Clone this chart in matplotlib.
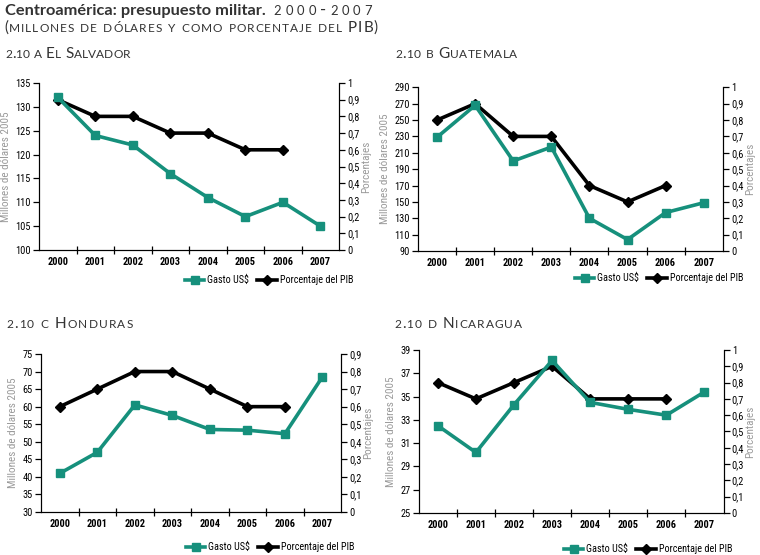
import matplotlib
matplotlib.use("Agg")
import matplotlib.pyplot as plt
from matplotlib.transforms import IdentityTransform
from matplotlib.lines import Line2D

years = ['2000', '2001', '2002', '2003', '2004', '2005', '2006', '2007']

# gasto militar (millones de dolares 2005) y porcentaje del PIB
sv_gasto = [132, 124, 122, 116, 111, 107, 110, 105]
sv_pib = [0.9, 0.8, 0.8, 0.7, 0.7, 0.6, 0.6]
gt_gasto = [229, 268, 200, 217, 130, 104, 137, 149]
gt_pib = [0.8, 0.9, 0.7, 0.7, 0.4, 0.3, 0.4]
hn_gasto = [41, 47, 60.5, 57.5, 53.5, 53.3, 52.3, 68.5]
hn_pib = [0.6, 0.7, 0.8, 0.8, 0.7, 0.6, 0.6]
ni_gasto = [32.5, 30.2, 34.3, 38.1, 34.5, 33.9, 33.4, 35.4]
ni_pib = [0.8, 0.7, 0.8, 0.9, 0.7, 0.7, 0.7]

TEAL = '#16907c'
GRAY = '#9a9a9a'
NARROW = ['Roboto Condensed', 'DejaVu Sans']
HEAD = ['Lato', 'DejaVu Sans']

W, H = 760, 555
fig = plt.figure(figsize=(W / 100, H / 100), dpi=100)
renderer = fig.canvas.get_renderer()


def put(x, y, s, size, weight='normal', keep=True):
    t = fig.text(x, H - y, s, transform=IdentityTransform(), fontsize=size,
                 fontweight=weight, family=HEAD, color='#333333', va='baseline')
    w = t.get_window_extent(renderer).width
    if not keep:
        t.remove()
    return w


def smallcaps(x, y, s, size, width, ratio=0.78):
    # fake small caps, letter by letter, spaced out to fill the given width
    parts = []
    for ch in s:
        if ch == ' ':
            parts.append((ch, size, None))
        elif ch.islower() or ch.isdigit():
            parts.append((ch.upper(), size * ratio, put(0, 0, ch.upper(), size * ratio, keep=False)))
        else:
            parts.append((ch, size, put(0, 0, ch, size, keep=False)))
    space = size * 0.28 * 100 / 72
    natural = sum(p[2] if p[2] is not None else space for p in parts)
    track = (width - natural) / max(len(parts) - 1, 1)
    for ch, sz, w in parts:
        if w is None:
            x += space + track
        else:
            put(x, y, ch, sz)
            x += w + track


# titulos
xe = put(5, 15, 'Centroamérica: presupuesto militar.', 11.8, 'bold')
smallcaps(5 + xe + 8, 15, '2000-2007', 12, 372 - 13 - xe)
smallcaps(4, 32, '(millones de dólares y como porcentaje del PIB)', 11, 374)
smallcaps(5, 58, '2.10 a El Salvador', 11, 125)
smallcaps(395, 58, '2.10 b Guatemala', 11, 122)
smallcaps(6, 328, '2.10 c Honduras', 11, 127)
smallcaps(394, 328, '2.10 d Nicaragua', 11, 128)


def panel(rect, gasto, pib, ylim, ystep, ylim2, ystep2, leg_xy):
    ax = fig.add_axes(rect)
    x = list(range(len(years)))
    ax.plot(x, gasto, color=TEAL, lw=2.6, marker='s', ms=6, zorder=3, clip_on=False)
    ax.set_xlim(-0.5, len(years) - 0.5)
    ax.set_ylim(*ylim)
    lt = []
    v = ylim[0]
    while v <= ylim[1] + 1e-9:
        lt.append(v)
        v += ystep
    ax.set_yticks(lt)
    ax.set_yticklabels([f'{t:g}' for t in lt])
    ax.set_xticks([i + 0.5 for i in range(len(years) - 1)])
    ax.set_xticklabels([])
    ax.set_xticks(x, minor=True)
    ax.set_xticklabels(years, minor=True, fontweight='bold', family=NARROW, fontsize=7.5)
    ax.tick_params(axis='x', which='minor', length=0, pad=5)
    ax.tick_params(axis='x', which='major', direction='inout', length=6, width=0.9)
    ax.tick_params(axis='y', direction='out', length=4, width=0.9, labelsize=7.5, pad=2)
    for lab in ax.get_yticklabels():
        lab.set_family(NARROW)
    ax.set_ylabel('Millones de dólares 2005', color=GRAY, family=NARROW, fontsize=8, labelpad=3)
    ax.spines['top'].set_visible(False)

    ax2 = ax.twinx()
    ax2.plot(range(len(pib)), pib, color='black', lw=2.6, marker='D', ms=5, zorder=4, clip_on=False)
    ax2.set_ylim(*ylim2)
    rt = [round(i * ystep2, 2) for i in range(int(round(ylim2[1] / ystep2)) + 1)]
    ax2.set_yticks(rt)
    ax2.set_yticklabels([f'{t:g}'.replace('.', ',') for t in rt])
    ax2.tick_params(axis='y', direction='out', length=4, width=0.9, labelsize=7.5, pad=2)
    for lab in ax2.get_yticklabels():
        lab.set_family(NARROW)
    ax2.set_ylabel('Porcentajes', color=GRAY, family=NARROW, fontsize=8, labelpad=1)
    ax2.spines['top'].set_visible(False)
    ax.set_zorder(ax2.get_zorder() + 1)
    ax.patch.set_visible(False)

    handles = [Line2D([], [], color=TEAL, lw=2.6, marker='s', ms=6),
               Line2D([], [], color='black', lw=2.6, marker='D', ms=5)]
    fig.legend(handles, ['Gasto US$', 'Porcentaje del PIB'], loc='center',
               bbox_to_anchor=(leg_xy[0] / W, 1 - leg_xy[1] / H), ncol=2, frameon=False,
               prop={'family': NARROW, 'size': 7.3}, handlelength=1.9, columnspacing=0.8,
               handletextpad=0.3, borderpad=0)
    return ax


panel([0.0513, 0.5495, 0.395, 0.301], sv_gasto, sv_pib, (100, 135), 5, (0, 1), 0.1, (269, 280))
panel([0.550, 0.5477, 0.401, 0.295], gt_gasto, gt_pib, (90, 290), 20, (0, 1), 0.1, (659, 278))
panel([0.054, 0.0775, 0.395, 0.2847], hn_gasto, hn_pib, (30, 75), 5, (0, 0.9), 0.1, (270, 547))
panel([0.551, 0.0757, 0.401, 0.2937], ni_gasto, ni_pib, (25, 39), 2, (0, 1), 0.1, (648, 549))

fig.savefig('out.png', dpi=100)
